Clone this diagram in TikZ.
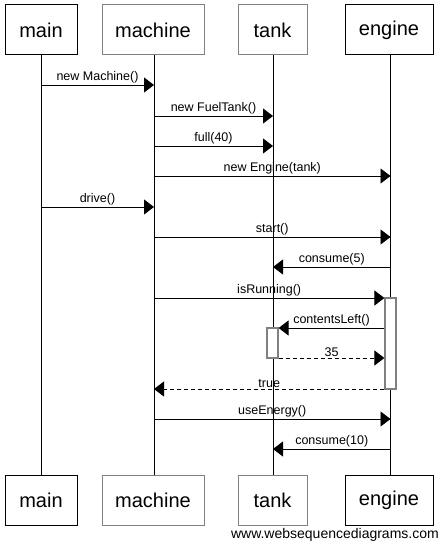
\documentclass[tikz,border=0pt]{standalone}
\usepackage{fontspec}
\setmainfont{Liberation Sans}
\usetikzlibrary{arrows.meta}
\begin{document}
\begin{tikzpicture}[x=1pt,y=-1pt,
  actor/.style={draw=#1,line width=1pt,fill=white,minimum height=50pt,inner sep=0pt,font=\fontsize{20}{24}\selectfont},
  actor/.default=black,
  life/.style={line width=0.9pt},
  msg/.style={line width=0.9pt,-{Triangle[length=10pt,width=15pt]}},
  ret/.style={msg,dash pattern=on 4pt off 3pt},
  lbl/.style={font=\fontsize{12.5}{14}\selectfont,inner sep=0pt,anchor=south},
  act/.style={draw=gray,line width=1.2pt,fill=white,minimum width=11pt,inner sep=0pt}]
\useasboundingbox (0,0) rectangle (444,545);
% top participants
\node[actor,minimum width=72pt] (main) at (41,30) {main};
\node[actor=gray,minimum width=102pt] (machine) at (153,30) {machine};
\node[actor=gray,minimum width=69pt] (tank) at (272.5,30) {tank};
\node[actor,minimum width=88pt] (engine) at (389,30) {engine};
% bottom participants
\node[actor,minimum width=72pt] (mainB) at (41,500) {main};
\node[actor=gray,minimum width=102pt] (machineB) at (153,500) {machine};
\node[actor=gray,minimum width=69pt] (tankB) at (272.5,500) {tank};
\node[actor,minimum width=88pt] (engineB) at (389,500) {engine};
% lifelines
\coordinate (lm) at (41,0);
\coordinate (lc) at (154,0);
\coordinate (lt) at (273,0);
\coordinate (le) at (390.5,0);
\draw[life] (lm |- main.south) -- (lm |- mainB.north);
\draw[life] (lc |- machine.south) -- (lc |- machineB.north);
\draw[life] (lt |- tank.south) -- (lt |- tankB.north);
\draw[life] (le |- engine.south) -- (le |- engineB.north);
% activations
\node[act,minimum height=91pt] (eact) at (390.5,343.5) {};
\node[act,minimum height=30pt] (tact) at (272.5,343) {};
% messages
\draw[msg] (lm |- 0,85) -- node[lbl,above=1pt]{new Machine()} (lc |- 0,85);
\draw[msg] (lc |- 0,116) -- node[lbl,above=1pt]{new FuelTank()} (lt |- 0,116);
\draw[msg] (lc |- 0,146) -- node[lbl,above=1pt]{full(40)} (lt |- 0,146);
\draw[msg] (lc |- 0,176) -- node[lbl,above=1pt]{new Engine(tank)} (le |- 0,176);
\draw[msg] (lm |- 0,207) -- node[lbl,above=1pt]{drive()} (lc |- 0,207);
\draw[msg] (lc |- 0,237) -- node[lbl,above=1pt]{start()} (le |- 0,237);
\draw[msg] (le |- 0,267) -- node[lbl,above=1pt]{consume(5)} (lt |- 0,267);
\draw[msg] (lc |- 0,298) -- node[lbl,above=1pt]{isRunning()} (eact.west |- 0,298);
\draw[msg] (eact.west |- 0,328) -- node[lbl,above=1pt]{contentsLeft()} (tact.east |- 0,328);
\draw[ret] (tact.east |- 0,358) -- node[lbl,above=1pt]{35} (eact.west |- 0,358);
\draw[ret] (eact.west |- 0,389) -- node[lbl,above=1pt]{true} (lc |- 0,389);
\draw[msg] (lc |- 0,419) -- node[lbl,above=1pt]{useEnergy()} (le |- 0,419);
\draw[msg] (le |- 0,449) -- node[lbl,above=1pt]{consume(10)} (lt |- 0,449);
% footer
\node[font=\fontsize{14}{16}\selectfont,inner sep=0pt,anchor=east] (footer) at (439,535) {www.websequencediagrams.com};
\end{tikzpicture}
\end{document}
